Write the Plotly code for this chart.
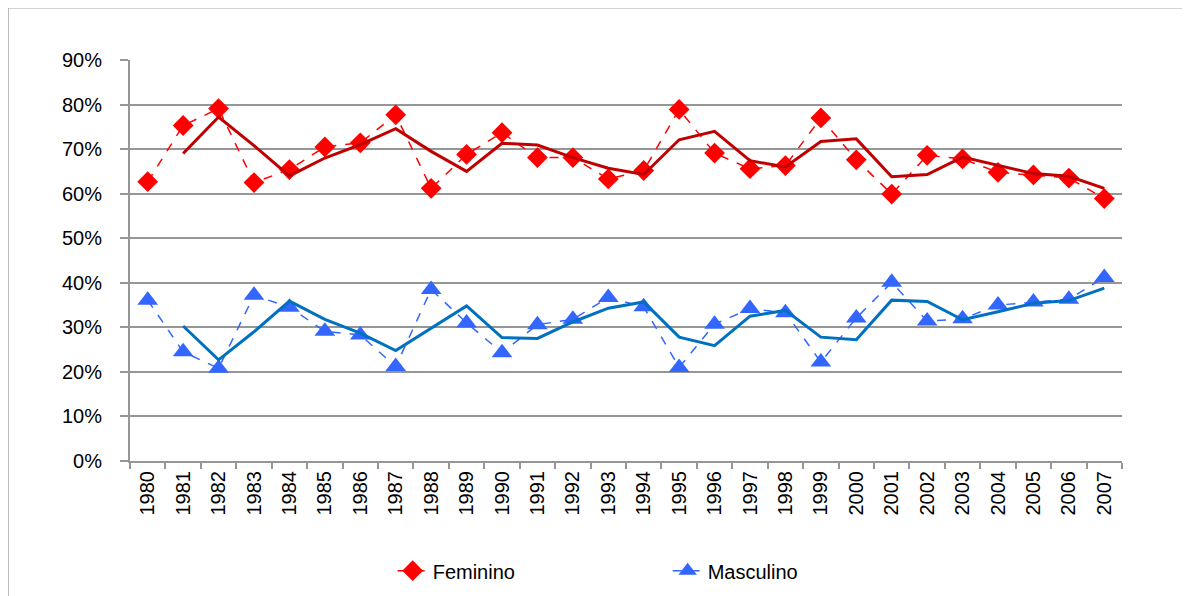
import plotly.graph_objects as go

# dados (percentual por ano)
anos = [str(a) for a in range(1980, 2008)]

feminino = [62.7, 75.3, 79.1, 62.5, 65.4, 70.5, 71.4, 77.7, 61.2, 68.8,
            73.7, 68.1, 68.1, 63.3, 65.2, 78.9, 69.1, 65.6, 66.3, 77.0,
            67.6, 59.9, 68.6, 67.8, 64.8, 64.2, 63.5, 58.9]

masculino = [36.1, 24.5, 20.8, 37.2, 34.5, 29.1, 28.3, 21.2, 38.5, 31.0,
             24.3, 30.6, 31.8, 36.7, 34.6, 21.0, 30.7, 34.2, 33.3, 22.2,
             32.1, 40.1, 31.4, 31.9, 35.0, 35.7, 36.3, 41.2]

# linhas de tendência (média móvel de 2 períodos), a partir de 1981
anos_tend = anos[1:]
tend_fem = [69.0, 77.2, 70.8, 64.0, 68.0, 71.0, 74.6, 69.5, 65.0, 71.3,
            70.9, 68.1, 65.7, 64.3, 72.1, 74.0, 67.4, 66.0, 71.7, 72.3,
            63.8, 64.3, 68.2, 66.3, 64.5, 63.9, 61.2]
tend_masc = [30.3, 22.7, 29.0, 35.9, 31.8, 28.7, 24.8, 29.9, 34.8, 27.7,
             27.5, 31.2, 34.3, 35.7, 27.8, 25.9, 32.5, 33.8, 27.8, 27.2,
             36.1, 35.8, 31.7, 33.5, 35.4, 36.0, 38.8]

ticks_y = [0, 10, 20, 30, 40, 50, 60, 70, 80, 90]
rotulos_y = ["0%", "10%", "20%", "30%", "40%", "50%", "60%", "70%", "80%", "90%"]

VERMELHO = "#FF0000"
VERMELHO_ESC = "#C00000"
AZUL = "#3366FF"
AZUL_ESC = "#0070C0"
CINZA = "#969696"
FONTE = "Liberation Sans"

fig = go.Figure()
fig.add_trace(go.Scatter(
    x=anos, y=feminino, mode="lines+markers", name="Feminino",
    line=dict(color=VERMELHO, width=1.5, dash="dash"),
    marker=dict(symbol="diamond", size=16, color=VERMELHO),
))
fig.add_trace(go.Scatter(
    x=anos, y=masculino, mode="lines+markers", name="Masculino",
    line=dict(color=AZUL, width=1.5, dash="dash"),
    marker=dict(symbol="triangle-up", size=18, color=AZUL),
))
fig.add_trace(go.Scatter(
    x=anos_tend, y=tend_fem, mode="lines", showlegend=False,
    line=dict(color=VERMELHO_ESC, width=3),
))
fig.add_trace(go.Scatter(
    x=anos_tend, y=tend_masc, mode="lines", showlegend=False,
    line=dict(color=AZUL_ESC, width=3),
))

# moldura externa do gráfico
fig.add_shape(type="rect", xref="paper", yref="paper",
              x0=-0.123, y0=-0.6, x1=1.2, y1=1.13,
              line=dict(color="#A6A6A6", width=1.5), layer="below")

fig.update_layout(
    width=1190, height=596,
    margin=dict(l=122, r=76, t=52, b=143),
    paper_bgcolor="white", plot_bgcolor="white",
    font=dict(family=FONTE, size=20, color="#000000"),
    showlegend=True,
    legend=dict(orientation="h", x=0.542, xanchor="center", y=-0.225,
                yanchor="top", font=dict(size=20), entrywidth=230,
                traceorder="normal"),
)
fig.update_xaxes(
    type="category", range=[-0.5, 27.5], automargin=False,
    tickangle=-90, showgrid=False,
    showline=True, linecolor=CINZA, linewidth=2,
    ticks="outside", ticklen=6, tickcolor=CINZA, tickwidth=1.5,
    tickson="boundaries", tickfont=dict(size=20),
)
fig.update_yaxes(
    range=[0, 90], tickvals=ticks_y, ticktext=rotulos_y, automargin=False,
    showgrid=True, gridcolor=CINZA, gridwidth=1.5,
    showline=True, linecolor=CINZA, linewidth=2,
    ticks="outside", ticklen=8, tickcolor=CINZA, tickwidth=1.5,
    zeroline=False, tickfont=dict(size=20), ticklabelstandoff=14,
)

fig.write_html("out.html")
